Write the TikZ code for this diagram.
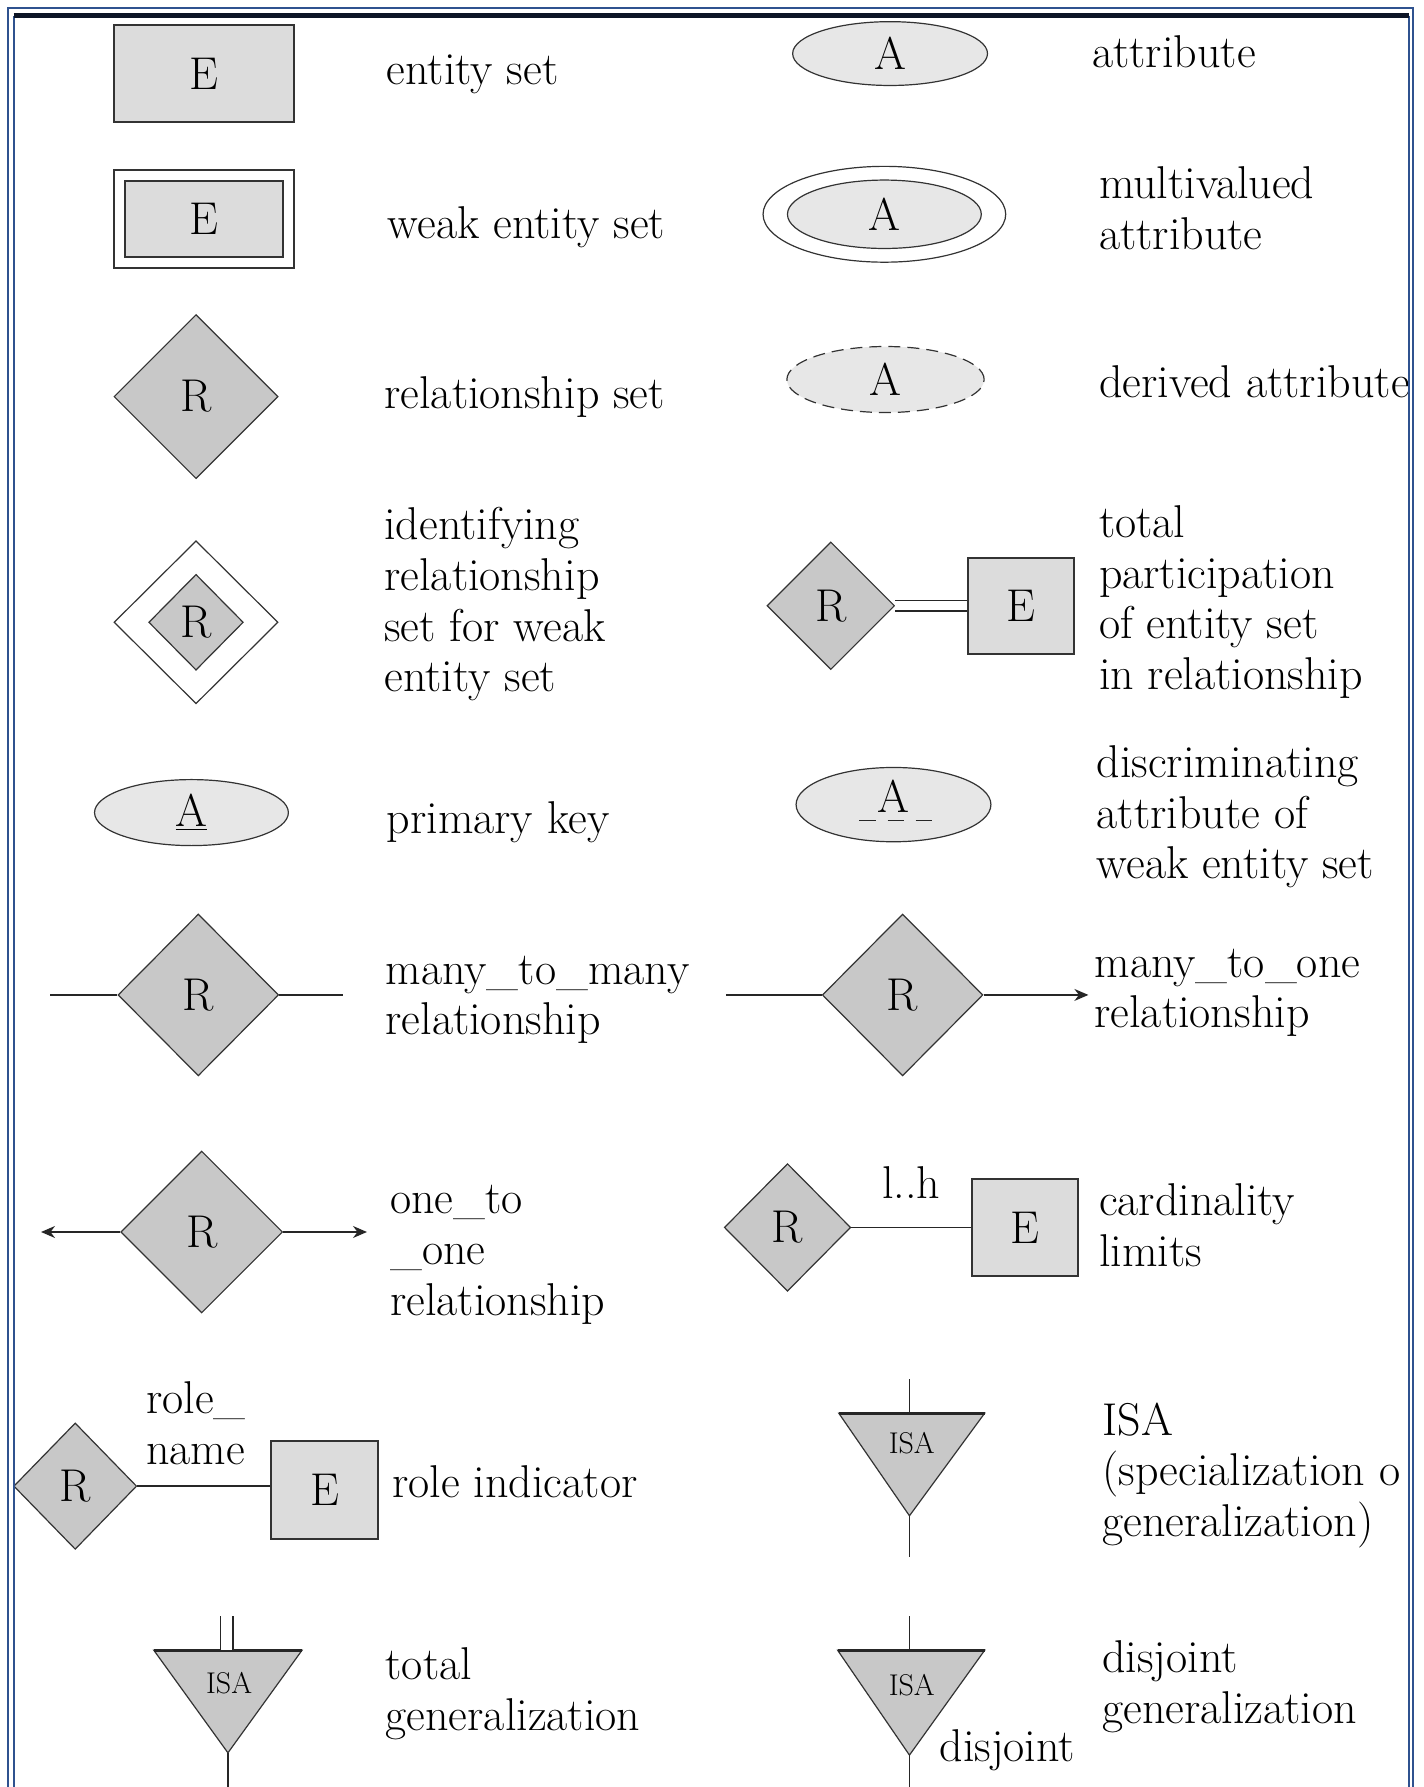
\documentclass[tikz,border=0pt]{standalone}
\usetikzlibrary{shapes.geometric,arrows.meta,positioning}
\definecolor{frameblue}{RGB}{47,82,143}
\definecolor{barblack}{RGB}{12,20,38}
\definecolor{entfill}{RGB}{220,220,220}
\definecolor{relfill}{RGB}{200,200,200}
\definecolor{attfill}{RGB}{231,231,231}

\begin{document}
\begin{tikzpicture}[x=0.5697pt,y=-0.5697pt]
	\tikzstyle{lbl} = [anchor=base west, align=left, inner sep=0pt, font=\fontsize{23}{25.3}\selectfont]
	\tikzstyle{entity} = [rectangle, draw=black!80, line width=1pt, fill=entfill, inner sep=0pt, font=\fontsize{23}{25}\selectfont]
	\tikzstyle{rel} = [diamond, draw=black!80, line width=0.6pt, fill=relfill, inner sep=0pt, font=\fontsize{23}{25}\selectfont]
	\tikzstyle{attr} = [ellipse, draw=black!80, line width=0.6pt, fill=attfill, inner sep=1pt, font=\fontsize{23}{25}\selectfont]
	\tikzstyle{isa} = [draw=black!80, line width=0.6pt, fill=relfill]
	\tikzstyle{isatext} = [inner sep=0pt, font=\fontsize{15}{16}\selectfont]
	\tikzstyle{edge} = [draw=black!85, line width=0.7pt]
	\tikzstyle{tip} = [-{Stealth[length=7pt,width=6pt]}]
	\useasboundingbox (0,0) rectangle (1249,1568);

		\node[entity, minimum width=90pt, minimum height=48.4pt] (ent) at (179,64.5) {E};
		\node[lbl] (entl) at (339,74) {entity set};
		\node[attr, minimum width=97.4pt, minimum height=31.9pt] (att) at (781,47) {A};
		\node[lbl] (attl) at (958,59) {attribute};

		\node[entity, fill=white, minimum width=90pt, minimum height=49pt] (weako) at (179,192) {};
		\node[entity, minimum width=78.6pt, minimum height=38.2pt] (weak) at (179,192) {E};
		\node[lbl] (weakl) at (340,209) {weak entity set};
		\node[attr, fill=white, minimum width=121.3pt, minimum height=47.9pt] (multo) at (776,188) {};
		\node[attr, minimum width=96.9pt, minimum height=34.2pt] (mult) at (776,188) {A};
		\node[lbl] (multl) at (964,219) {multivalued\\attribute};

		\node[rel, minimum width=82pt, minimum height=82pt] (rel) at (172,348) {R};
		\node[lbl] (rell) at (337,358) {relationship set};
		\node[attr, dash pattern=on 6pt off 3.5pt, minimum width=98.6pt, minimum height=33pt] (der) at (777,333) {A};
		\node[lbl] (derl) at (964,349) {derived attribute};

		\node[rel, fill=white, minimum width=82pt, minimum height=81.5pt] (idento) at (172,546) {};
		\node[rel, minimum width=47.3pt, minimum height=47.9pt] (ident) at (172,546) {R};
		\node[lbl] (identl) at (337,607) {identifying\\relationship\\set for weak\\entity set};
		\node[rel, minimum width=63.8pt, minimum height=63.8pt] (totr) at (729,531.5) {R};
		\node[entity, minimum width=53pt, minimum height=47.9pt] (tote) at (895.5,531.5) {E};
		\node[lbl] (totl) at (964,605) {total\\participation\\of entity set\\in relationship};
		\draw[edge, double, double distance=4.4pt] (totr.east) -- (tote.west);

		\node[attr, minimum width=96.9pt, minimum height=33pt] (pk) at (168,713) {\underline{A}};
		\node[lbl] (pkl) at (339,731) {primary key};
		\node[attr, minimum width=97.4pt, minimum height=32.5pt] (disc) at (784,706) {\raisebox{8pt}{A}};
		\node[lbl] (discl) at (962,771) {discriminating\\attribute of\\weak entity set};
		\draw[edge, dash pattern=on 8pt off 6pt] ([xshift=-17pt,yshift=-8pt]disc.center) -- ([xshift=19pt,yshift=-8pt]disc.center);

		\coordinate (mmw) at (44,873);
		\coordinate (mme) at (301,873);
		\node[rel, minimum width=80.3pt, minimum height=80.9pt] (mm) at (174,873) {R};
		\node[lbl] (mml) at (338,908) {many\_to\_many\\relationship};
		\draw[edge] (mmw) -- (mm.west);
		\draw[edge] (mm.east) -- (mme);
		\coordinate (mow) at (637,873);
		\coordinate (moe) at (955,873);
		\node[rel, minimum width=80.3pt, minimum height=80.9pt] (mo) at (792,873) {R};
		\node[lbl] (mol) at (960,902) {many\_to\_one\\relationship};
		\draw[edge] (mow) -- (mo.west);
		\draw[edge, tip] (mo.east) -- (moe);

		\coordinate (oow) at (36,1081);
		\coordinate (ooe) at (322,1081);
		\node[rel, minimum width=80.9pt, minimum height=80.9pt] (oo) at (177,1081) {R};
		\node[lbl] (ool) at (342,1154) {one\_to\\\_one\\relationship};
		\draw[edge, tip] (oo.west) -- (oow);
		\draw[edge, tip] (oo.east) -- (ooe);
		\node[rel, minimum width=63.2pt, minimum height=63.8pt] (card) at (691,1077) {R};
		\node[entity, minimum width=53pt, minimum height=48.4pt] (carde) at (899.5,1077) {E};
		\node[lbl] (cardl) at (964,1111) {cardinality\\limits};
		\draw[edge] (card.east) -- node[above=14pt, inner sep=0pt, font=\fontsize{23}{25}\selectfont] (lh) {l..h} (carde.west);

		\node[rel, minimum width=61.5pt, minimum height=63.2pt] (role) at (66,1304) {R};
		\node[entity, minimum width=53.6pt, minimum height=49pt] (rolee) at (285,1307) {E};
		\node[lbl] (rname) at (128,1285) {role\_\\name};
		\node[lbl] (rolel) at (344,1314) {role indicator};
		\draw[edge] (role.east) -- (role.east -| rolee.west);

		\filldraw[isa] (736,1240) -- (864,1240) -- (798,1330) -- cycle;
		\draw[edge, line width=1.3pt] (736,1240) -- (864,1240);
		\node[isatext] (isa) at (800,1266) {ISA};
		\coordinate (isat) at (798,1240);
		\coordinate (isab) at (798,1330);
		\coordinate (isau) at (798,1210);
		\coordinate (isad) at (798,1366);
		\draw[edge] (isau) -- (isat);
		\draw[edge] (isab) -- (isad);
		\node[lbl] (isal) at (967,1348) {ISA\\(specialization o\\generalization)};

		\filldraw[isa] (135,1448) -- (265,1448) -- (200,1538) -- cycle;
		\draw[edge, line width=1.3pt] (135,1448) -- (265,1448);
		\node[isatext] (tisa) at (201,1477) {ISA};
		\coordinate (tisat) at (199,1448);
		\coordinate (tisau) at (199,1418);
		\coordinate (tisab) at (200,1538);
		\coordinate (tisad) at (200,1575);
		\draw[edge, double, double distance=5.5pt] (tisau) -- (tisat);
		\draw[edge] (tisab) -- (tisad);
		\node[lbl] (tisal) at (338,1518) {total\\generalization};

		\filldraw[isa] (735,1448) -- (864,1448) -- (798,1540) -- cycle;
		\draw[edge, line width=1.3pt] (735,1448) -- (864,1448);
		\node[isatext] (disa) at (800,1479) {ISA};
		\coordinate (disat) at (798,1448);
		\coordinate (disau) at (798,1418);
		\coordinate (disab) at (798,1540);
		\coordinate (disad) at (798,1575);
		\draw[edge] (disau) -- (disat);
		\draw[edge] (disab) -- (disad);
		\node[lbl] (disj) at (824,1546) {disjoint};
		\node[lbl] (disal) at (967,1512) {disjoint\\generalization};

		\fill[white] (1236.5,0) rectangle (1249,1575);
		\draw[frameblue, line width=1pt] (7,1575) -- (7,7) -- (1240,7) -- (1240,1575);
		\draw[frameblue, line width=1pt] (12,1575) -- (12,13.6);
		\draw[frameblue, line width=1pt] (1236,13.6) -- (1236,1575);
		\draw[barblack, line width=2.6pt] (12,13.6) -- (1236,13.6);
\end{tikzpicture}
\end{document}
